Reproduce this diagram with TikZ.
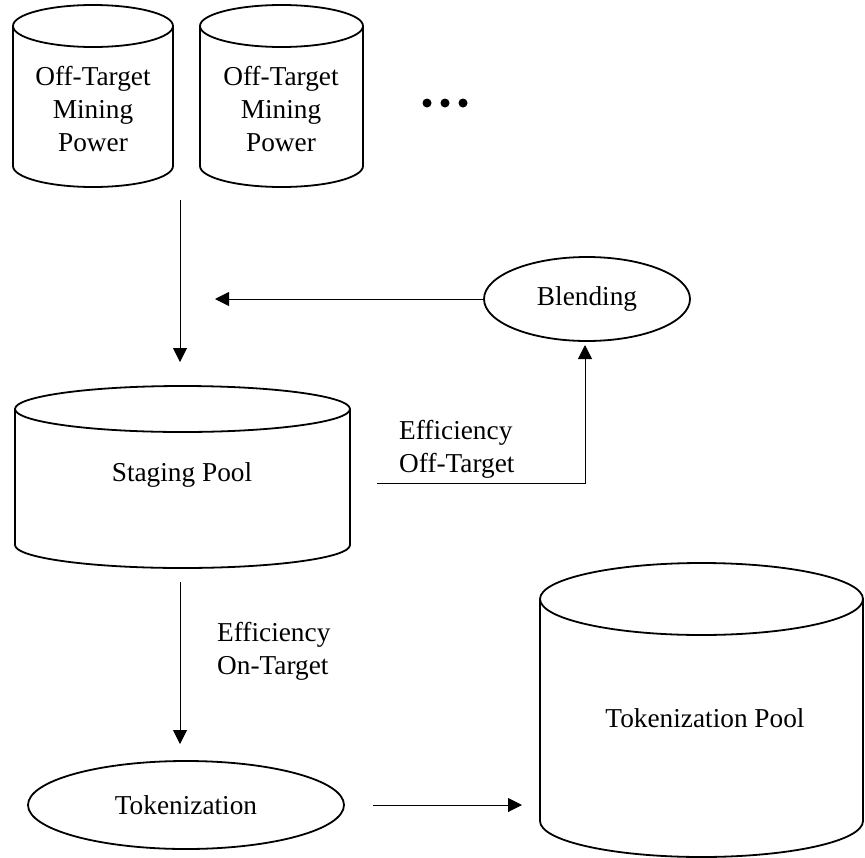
\documentclass[tikz,border=0pt]{standalone}
\usepackage{fontspec}
\setmainfont{Liberation Serif}
\usetikzlibrary{arrows.meta,shapes.geometric}
\newcommand\mycyl[5]{%
  \pgfmathsetmacro\cylcx{(#1+#2)/2}%
  \pgfmathsetmacro\cylrx{(#2-#1)/2}%
  \draw[shapeline] (\cylcx,#3) ellipse [x radius=\cylrx, y radius=#5];
  \draw[shapeline] (#1,#3) -- (#1,#4) arc[start angle=180, end angle=0, x radius=\cylrx, y radius=#5] -- (#2,#3);
}
\begin{document}
\begin{tikzpicture}[x=1pt,y=-1pt,
  shapeline/.style={line width=1.8pt},
  conn/.style={line width=1pt, -{Triangle[length=14pt,width=14pt]}},
  plainline/.style={line width=1pt},
  lbl/.style={font=\fontsize{27.3}{33}\selectfont, inner sep=0pt, align=center},
  oval/.style={draw, ellipse, line width=1.8pt, inner sep=0pt},
]
\useasboundingbox (0,0) rectangle (865,857);

% cylinders
\mycyl{13}{173}{26}{166}{21}
\mycyl{200}{363}{26}{166}{21}
\mycyl{15}{350}{409}{545}{23}
\mycyl{540}{863}{599}{821}{36}

\node[lbl] (m1) at (93,109) {Off-Target\\Mining\\Power};
\node[lbl] (m2) at (281,109) {Off-Target\\Mining\\Power};
\node[lbl] (sp) at (182,475) {Staging Pool};
\node[lbl] (tp) at (705,718) {Tokenization Pool};

% dots
\fill (427,103) circle (4.5pt);
\fill (445,103) circle (4.5pt);
\fill (463,103) circle (4.5pt);

% ellipses
\node[oval, minimum width=206pt, minimum height=84pt, font=\fontsize{27.3}{33}\selectfont] (bl) at (587,299) {Blending};
\node[oval, minimum width=316pt, minimum height=88pt, font=\fontsize{27.3}{33}\selectfont] (tk) at (186,805) {Tokenization};

% labels
\node[lbl, anchor=west, align=left] (eoff) at (399,449) {Efficiency\\Off-Target};
\node[lbl, anchor=west, align=left] (eon) at (217,651) {Efficiency\\On-Target};

% connectors
\coordinate (a1) at (180,200);
\coordinate (a2) at (180,362);
\draw[conn] (a1) -- (a2);

\coordinate (b2) at (215,299);
\draw[conn] (bl.west) -- (b2);

\coordinate (c1) at (377,483);
\coordinate (c2) at (585,483);
\coordinate (c3) at (585,345);
\draw[conn] (c1) -- (c2) -- (c3);

\coordinate (d1) at (180,582);
\coordinate (d2) at (180,744);
\draw[conn] (d1) -- (d2);

\coordinate (e1) at (373,805);
\coordinate (e2) at (522,805);
\draw[conn] (e1) -- (e2);
\end{tikzpicture}
\end{document}
